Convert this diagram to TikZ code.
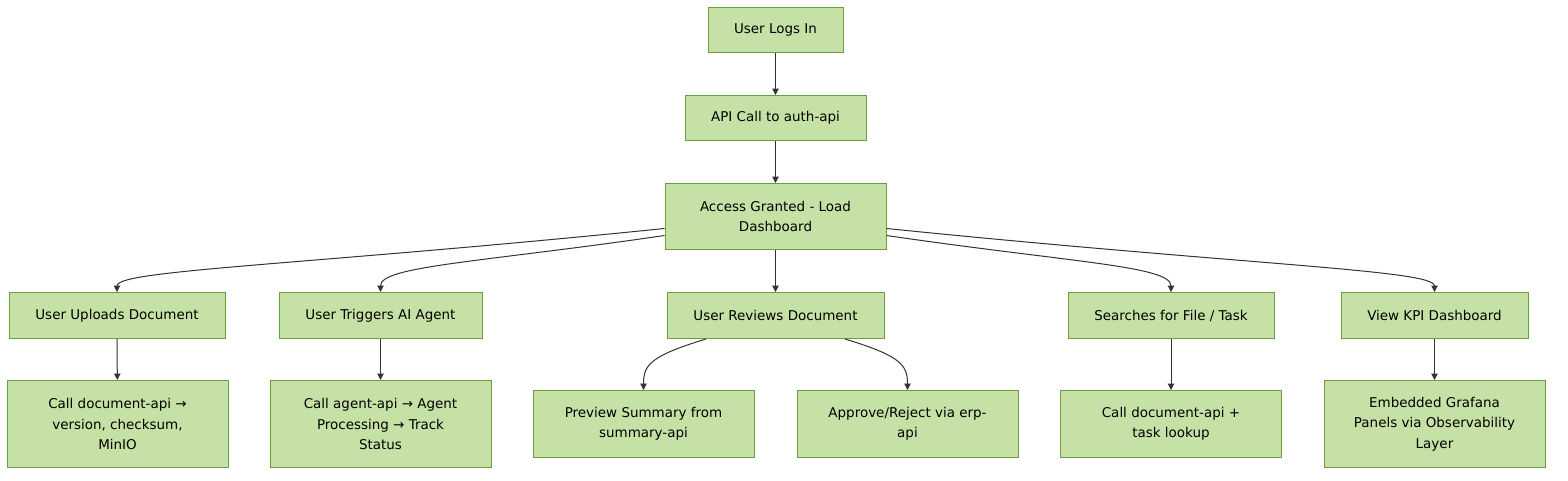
\documentclass[tikz,border=0pt]{standalone}
\usepackage{fontspec}
\setmainfont{DejaVu Sans}
\usetikzlibrary{calc}
\usetikzlibrary{arrows.meta}
\definecolor{boxfill}{HTML}{C5E1A5}
\definecolor{boxline}{HTML}{6B9E3C}
\definecolor{edgeline}{HTML}{333333}
\tikzset{
	flowbox/.style 2 args={rectangle,draw=boxline,fill=boxfill,line width=0.75pt,
		align=center,inner sep=0pt,minimum width=#1*0.75pt,minimum height=#2*0.75pt},
	flowedge/.style={draw=edgeline,line width=0.75pt,-{Triangle[length=4.8pt,width=4.8pt]}}
}
\begin{document}
\begin{tikzpicture}[x=0.75pt,y=-0.75pt]
	\fontsize{10.1}{15.4}\selectfont
	\useasboundingbox (0,0) rectangle (1568,480);
	% top column
	\node[flowbox={135}{45}] (login) at (775.5,30) {User Logs In};
	\node[flowbox={181}{45}] (auth) at (775.5,118) {API Call to auth-api};
	\node[flowbox={221}{66}] (access) at (775.5,216.5) {Access Granted - Load\\Dashboard};
	% middle row
	\node[flowbox={216}{46}] (upload) at (117,315.5) {User Uploads Document};
	\node[flowbox={203}{46}] (agent) at (380.5,315.5) {User Triggers AI Agent};
	\node[flowbox={217}{46}] (review) at (775.5,315.5) {User Reviews Document};
	\node[flowbox={206}{46}] (search) at (1171,315.5) {Searches for File / Task};
	\node[flowbox={187}{46}] (kpi) at (1434.5,315.5) {View KPI Dashboard};
	% bottom row
	\node[flowbox={221}{87}] (calldoc) at (117.5,424) {Call document-api →\\version, checksum,\\MinIO};
	\node[flowbox={221}{87}] (callagent) at (380.5,424) {Call agent-api → Agent\\Processing → Track\\Status};
	\node[flowbox={221}{67}] (preview) at (643.5,424) {Preview Summary from\\summary-api};
	\node[flowbox={221}{67}] (approve) at (907.5,424) {Approve/Reject via erp-\\api};
	\node[flowbox={221}{67}] (lookup) at (1171,424) {Call document-api +\\task lookup};
	\node[flowbox={221}{87}] (grafana) at (1434.5,424) {Embedded Grafana\\Panels via Observability\\Layer};
	% straight edges
	\draw[flowedge] (login) -- (auth);
	\draw[flowedge] (auth) -- (access);
	\draw[flowedge] (access) -- (review);
	\draw[flowedge] (upload) -- (calldoc);
	\draw[flowedge] (agent) -- (callagent);
	\draw[flowedge] (search) -- (lookup);
	\draw[flowedge] (kpi) -- (grafana);
	% curved edges
	\draw[flowedge] ($(access.west)+(0,12)$) .. controls +(-365,37) and +(0,-22) .. (upload.north);
	\draw[flowedge] ($(access.west)+(0,19)$) .. controls +(-185,27) and +(0,-26) .. (agent.north);
	\draw[flowedge] ($(access.east)+(0,19)$) .. controls +(185,27) and +(0,-26) .. (search.north);
	\draw[flowedge] ($(access.east)+(0,12)$) .. controls +(365,37) and +(0,-22) .. (kpi.north);
	\draw[flowedge] ($(review.south)+(-69.5,0)$) .. controls +(-56,17) and +(0,-25) .. (preview.north);
	\draw[flowedge] ($(review.south)+(69.5,0)$) .. controls +(56,17) and +(0,-25) .. (approve.north);
\end{tikzpicture}
\end{document}
